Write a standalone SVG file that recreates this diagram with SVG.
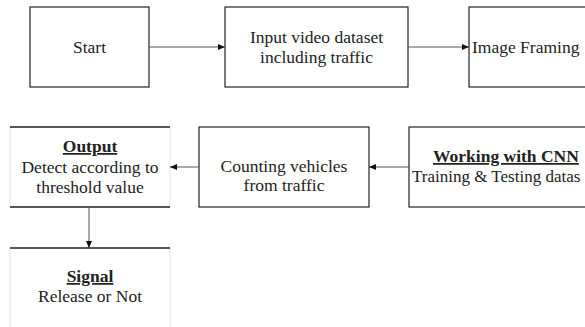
<svg xmlns="http://www.w3.org/2000/svg" width="585" height="327" viewBox="0 0 585 327">
<style>
.box{fill:#fff;stroke:#222;stroke-width:1.2}
.line{stroke:#222;stroke-width:1.3;fill:none}
.faint{stroke:#e4e4e4;stroke-width:1;fill:none}
.c{text-anchor:middle}
.b{font-weight:bold;text-decoration:underline}
.conn{stroke:#555;stroke-width:1;fill:none}
</style>
<defs>
<marker id="ah" markerWidth="8" markerHeight="8" refX="7" refY="4" orient="auto" markerUnits="userSpaceOnUse">
<path d="M0,1 L7,4 L0,7 Z" fill="#111"/>
</marker>
</defs>
<rect width="585" height="327" fill="#fff"/>
<g font-family="Liberation Serif, Times New Roman, DejaVu Serif, serif" font-size="17.5" fill="#222">
<g id="start">
<rect class="box" x="30" y="7" width="119" height="80"/>
<text class="c" x="89.5" y="53">Start</text>
</g>
<g id="input">
<rect class="box" x="225" y="7" width="183" height="80"/>
<text class="c" x="316.5" y="43">Input video dataset</text>
<text class="c" x="316.5" y="63">including traffic</text>
</g>
<g id="framing">
<rect class="box" x="469" y="7" width="130" height="80"/>
<text x="472" y="53">Image Framing</text>
</g>
<g id="output">
<rect class="faint" x="10" y="127" width="160" height="80"/>
<line class="line" x1="10" y1="127" x2="170" y2="127"/>
<line class="line" x1="10" y1="207" x2="170" y2="207"/>
<text class="c b" x="90" y="152">Output</text>
<text class="c" x="90" y="173">Detect according to</text>
<text class="c" x="90" y="193">threshold value</text>
</g>
<g id="counting">
<rect class="box" x="199" y="127" width="170" height="80"/>
<text class="c" x="284" y="172">Counting vehicles</text>
<text class="c" x="284" y="191">from traffic</text>
</g>
<g id="cnn">
<rect class="box" x="409" y="127" width="190" height="80"/>
<text class="b" x="433" y="162">Working with CNN</text>
<text x="412" y="182" font-size="17">Training &amp; Testing datas</text>
</g>
<g id="signal">
<rect class="faint" x="10" y="248" width="160" height="90"/>
<line class="line" x1="10" y1="248" x2="170" y2="248"/>
<text class="c b" x="90" y="282">Signal</text>
<text class="c" x="90" y="302">Release or Not</text>
</g>
</g>
<g id="connectors">
<line class="conn" x1="149" y1="47" x2="225" y2="47" marker-end="url(#ah)"/>
<line class="conn" x1="408" y1="47" x2="469" y2="47" marker-end="url(#ah)"/>
<line class="conn" x1="409" y1="167" x2="369" y2="167" marker-end="url(#ah)"/>
<line class="conn" x1="199" y1="167" x2="170" y2="167" marker-end="url(#ah)"/>
<line class="conn" x1="89" y1="207" x2="89" y2="248" marker-end="url(#ah)"/>
</g>
</svg>
